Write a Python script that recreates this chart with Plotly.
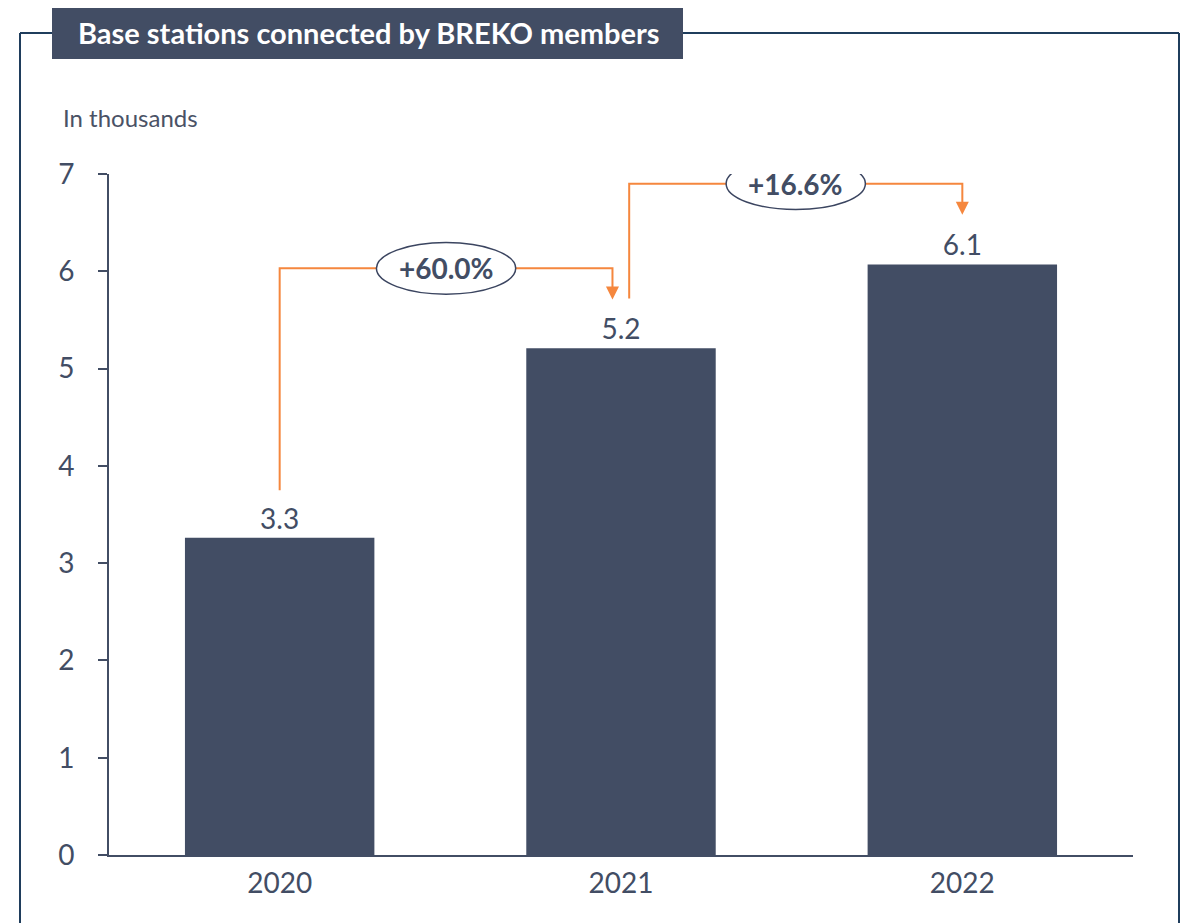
import plotly.graph_objects as go

years = ["2020", "2021", "2022"]
values = [3.26, 5.21, 6.07]
value_labels = ["3.3", "5.2", "6.1"]
growth_labels = ["+60.0%", "+16.6%"]
y_ticks = [0, 1, 2, 3, 4, 5, 6, 7]

BAR = "#424d64"
ORANGE = "#f5873e"
TEXT = "#424d64"
FRAME = "#1f3d5c"
FONT = "Lato"

W, H = 1188, 923
OFF = 8  # page body margin
L, R, T, B = 109 - OFF, 55 + OFF, 174 - OFF, 68 + OFF

fig = go.Figure()
fig.add_trace(go.Bar(
    x=[0, 1, 2], y=values, marker=dict(color=BAR, line=dict(width=0)),
    width=0.555, text=value_labels, textposition="outside",
    textfont=dict(size=28, color=TEXT, family=FONT), cliponaxis=False,
    hoverinfo="skip",
))

shapes = []
annotations = []


def px2paper_x(px):
    return (px - OFF - L) / (W - L - R)


def px2paper_y(py):
    return (H - B - (py - OFF)) / (H - T - B)


frame_line = dict(color=FRAME, width=2)
for x0, x1 in [(20, 52), (683, 1179)]:
    shapes.append(dict(type="line", xref="paper", yref="paper",
                       x0=px2paper_x(x0), x1=px2paper_x(x1),
                       y0=px2paper_y(33), y1=px2paper_y(33), line=frame_line))
for xx in [20, 1179]:
    shapes.append(dict(type="line", xref="paper", yref="paper",
                       x0=px2paper_x(xx), x1=px2paper_x(xx),
                       y0=px2paper_y(33), y1=px2paper_y(940), line=frame_line))
shapes.append(dict(type="rect", xref="paper", yref="paper",
                   x0=px2paper_x(52), x1=px2paper_x(683),
                   y0=px2paper_y(59), y1=px2paper_y(7),
                   fillcolor=BAR, line=dict(width=0)))
annotations.append(dict(xref="paper", yref="paper", x=px2paper_x(368), y=px2paper_y(33),
                        text="<b>Base stations connected by BREKO members</b>",
                        showarrow=False, xanchor="center", yanchor="middle",
                        font=dict(size=29, color="white", family=FONT)))
annotations.append(dict(xref="paper", yref="paper", x=px2paper_x(61), y=px2paper_y(117),
                        text="In thousands", showarrow=False, xanchor="left", yanchor="middle",
                        font=dict(size=24, color="#4a5266", family=FONT)))

oline = dict(color=ORANGE, width=2)
connectors = [
    (0, 0.0, values[0] + 0.49, values[1] + 0.82, 0.975, values[1] + 0.50),
    (1, 0.024, values[1] + 0.51, values[2] + 0.83, 2.0, values[2] + 0.51),
]
for i, (idx, dx, ys, ytop, xe, ytip) in enumerate(connectors):
    xs = idx + dx
    shapes.append(dict(type="path", xref="x", yref="y",
                       path=f"M {xs},{ys} L {xs},{ytop} L {xe},{ytop} L {xe},{ytip + 0.12}",
                       line=oline))
    annotations.append(dict(xref="x", yref="y", axref="x", ayref="y",
                            x=xe, y=ytip, ax=xe, ay=ytip + 0.14, text="",
                            showarrow=True, arrowhead=2, arrowsize=1.3, arrowwidth=2,
                            arrowcolor=ORANGE, standoff=0, startstandoff=0))
    xm = (xs + xe) / 2
    shapes.append(dict(type="circle", xref="x", yref="y",
                       x0=xm - 0.204, x1=xm + 0.204, y0=ytop - 0.265, y1=ytop + 0.265,
                       fillcolor="white", line=dict(color="#3b4560", width=1.5)))
    annotations.append(dict(xref="x", yref="y", x=xm, y=ytop, text=f"<b>{growth_labels[i]}</b>",
                            showarrow=False, xanchor="center", yanchor="middle",
                            font=dict(size=28, color=TEXT, family=FONT)))

fig.update_layout(
    width=W, height=H, margin=dict(l=L, r=R, t=T, b=B),
    paper_bgcolor="white", plot_bgcolor="white", showlegend=False,
    shapes=shapes, annotations=annotations,
    font=dict(family=FONT, color=TEXT),
    xaxis=dict(range=[-0.5, 2.5], tickvals=[0, 1, 2], ticktext=years,
               showline=True, linecolor=BAR, linewidth=2, ticks="", showgrid=False,
               zeroline=False, ticklabelstandoff=2,
               tickfont=dict(size=28, color=TEXT, family=FONT), fixedrange=True),
    yaxis=dict(range=[0, 7], tickvals=y_ticks, showline=True, linecolor=BAR, linewidth=2,
               ticks="outside", ticklen=9, tickwidth=2, tickcolor=BAR, showgrid=False,
               zeroline=False, ticklabelstandoff=18,
               tickfont=dict(size=28, color=TEXT, family=FONT), fixedrange=True),
)
fig.write_html("out.html")
